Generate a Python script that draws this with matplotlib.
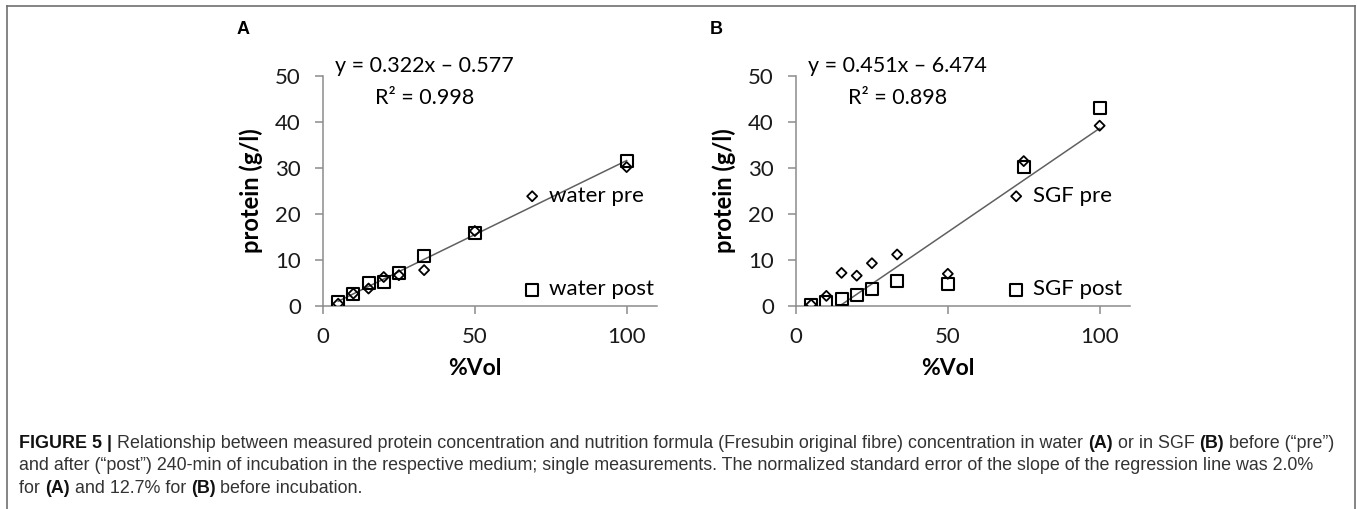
import matplotlib
matplotlib.use('Agg')
import matplotlib.pyplot as plt
from matplotlib.lines import Line2D
from matplotlib import font_manager

# data
vol_a = [5, 10, 15, 20, 25, 33.3, 50, 100]
water_pre = [0.5, 2.7, 3.8, 6.3, 6.7, 7.8, 16.3, 30.2]
water_post = [0.9, 2.7, 5.1, 5.3, 7.2, 10.9, 15.8, 31.5]
fit_a = (0.322, -0.577)

vol_b = [5, 10, 15, 20, 25, 33.3, 50, 75, 100]
sgf_pre = [0.3, 2.2, 7.2, 6.6, 9.3, 11.2, 7.0, 31.5, 39.2]
sgf_post = [0.15, 0.8, 1.6, 2.3, 3.7, 5.4, 4.7, 30.2, 43.0]
fit_b = (0.451, -6.474)

yticks = [0, 10, 20, 30, 40, 50]
xticks = [0, 50, 100]

names = {f.name for f in font_manager.fontManager.ttflist}
chart_font = 'Lato' if 'Lato' in names else 'DejaVu Sans'
cap_font = 'Liberation Sans'
plt.rcParams['font.family'] = chart_font

W, H = 1357, 509
fig = plt.figure(figsize=(W / 100, H / 100), dpi=100)

# outer frame
fr = dict(color='#707070', lw=1.2, transform=fig.transFigure)
fig.add_artist(Line2D([7 / W, 1355 / W], [1 - 6 / H, 1 - 6 / H], **fr))
fig.add_artist(Line2D([7 / W, 7 / W], [1 - 6 / H, 0], **fr))
fig.add_artist(Line2D([1355 / W, 1355 / W], [1 - 6 / H, 0], **fr))

axcol = '#8c8c8c'


def panel(left_px, x, pre, post, fit, lab_pre, lab_post, letter, eq, r2, leg_x):
    ax = fig.add_axes([left_px / W, 1 - 306 / H, 334 / W, 230 / H])
    ax.scatter(x, pre, marker='D', s=26, facecolors='none', edgecolors='black',
               linewidths=1.3, label=lab_pre, zorder=3)
    ax.scatter(x, post, marker='s', s=75, facecolors='none', edgecolors='black',
               linewidths=1.5, label=lab_post, zorder=3)
    m, b = fit
    x0 = max(min(x), -b / m)
    ax.plot([x0, max(x)], [m * x0 + b, m * max(x) + b], color='#606060', lw=1.1, zorder=2)
    ax.set_xlim(0, 110)
    ax.set_ylim(0, 50)
    ax.set_xticks(xticks)
    ax.set_yticks(yticks)
    for s in ['top', 'right']:
        ax.spines[s].set_visible(False)
    for s in ['left', 'bottom']:
        ax.spines[s].set_color(axcol)
        ax.spines[s].set_linewidth(1.1)
    ax.tick_params(axis='both', colors=axcol, labelcolor='#1a1a1a', labelsize=16,
                   length=6, width=1.1)
    ax.tick_params(axis='y', pad=10)
    ax.tick_params(axis='x', pad=9)
    ax.set_ylabel('protein (g/l)', fontsize=17, fontweight='bold')
    ax.yaxis.set_label_coords(-0.18, 0.5)
    ax.set_xlabel('%Vol', fontsize=16.5, fontweight='bold')
    ax.xaxis.set_label_coords(0.455, -0.225)
    ax.patch.set_visible(False)
    ax.legend(loc='center left', bbox_to_anchor=(leg_x, 0.275), frameon=False,
              fontsize=16, borderpad=0, handlelength=1.0, handletextpad=0.25,
              labelspacing=3.3, borderaxespad=0)
    fig.text((left_px - 86) / W, 1 - 30 / H, letter, fontsize=13, fontweight='bold',
             family='Liberation Sans', ha='left', va='center')
    cx = left_px + 101
    fig.text(cx / W, 1 - 66 / H, eq, fontsize=15.5, ha='center', va='center')
    fig.text((cx + 1) / W, 1 - 98 / H, r2, fontsize=15.5, ha='center', va='center')
    return ax


panel(323, vol_a, water_pre, water_post, fit_a, 'water pre', 'water post', 'A',
      'y = 0.322x \u2013 0.577', 'R\u00b2 = 0.998', 0.593)
panel(796, vol_b, sgf_pre, sgf_post, fit_b, 'SGF pre', 'SGF post', 'B',
      'y = 0.451x \u2013 6.474', 'R\u00b2 = 0.898', 0.626)

# caption, written piece by piece so bold parts can sit inline
caption = [
    [('FIGURE 5 | ', True), ('Relationship between measured protein concentration and nutrition formula '
     '(Fresubin original fibre) concentration in water ', False), ('(A)', True),
     (' or in SGF ', False), ('(B)', True), (' before (\u201cpre\u201d)', False)],
    [('and after (\u201cpost\u201d) 240-min of incubation in the respective medium; single measurements. '
      'The normalized standard error of the slope of the regression line was 2.0%', False)],
    [('for ', False), ('(A)', True), (' and 12.7% for ', False), ('(B)', True),
     (' before incubation.', False)],
]
cap_base = [448, 470, 493]

fig.canvas.draw()
rend = fig.canvas.get_renderer()
for line, yp in zip(caption, cap_base):
    xp = 19
    for txt, bold in line:
        t = fig.text(xp / W, 1 - yp / H, txt, fontsize=12.9, family=cap_font,
                     fontweight='bold' if bold else 'normal',
                     color='#111111' if bold else '#333333',
                     ha='left', va='baseline')
        bb = t.get_window_extent(renderer=rend)
        xp += bb.width

fig.savefig('out.png', dpi=100)
